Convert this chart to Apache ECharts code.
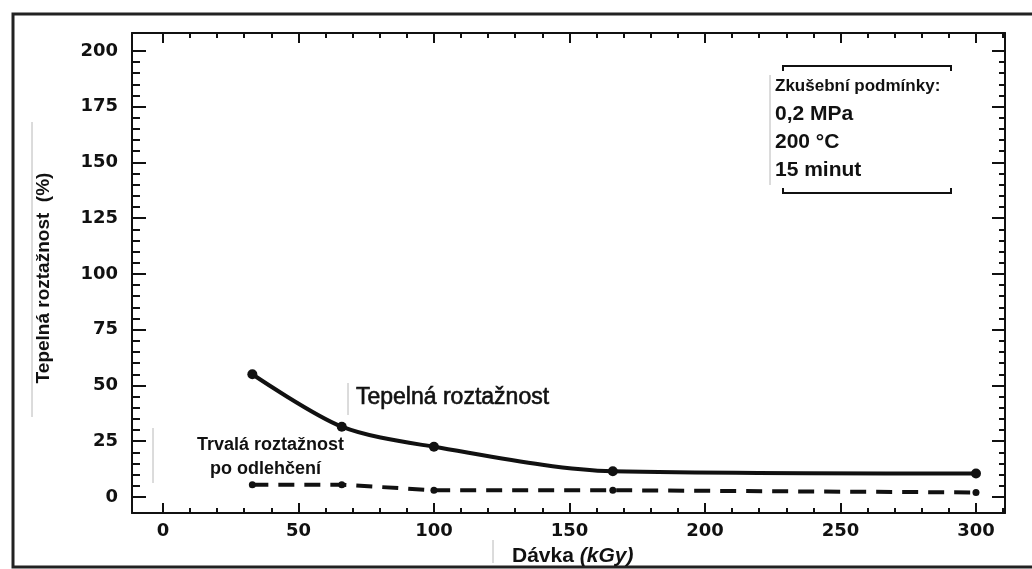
<!DOCTYPE html>
<html>
<head>
<meta charset="utf-8">
<script src="https://cdn.jsdelivr.net/npm/echarts@6/dist/echarts.min.js"></script>
<style>
html,body{margin:0;padding:0;background:#fff;}
#c{width:1032px;height:569px;}
</style>
</head>
<body>
<div id="c"></div>
<script>
// ---- data ----
const dose = [33, 66, 100, 166, 300];
const thermalExpansion = [55, 31.5, 22.5, 11.5, 10.5];
const permanentExpansion = [5.5, 5.5, 3, 3, 2];
const xMajorTicks = [0, 50, 100, 150, 200, 250, 300];
const xMinorTicks = [0, 10, 20, 30, 40, 50, 60, 70, 80, 90, 100, 110, 120, 130, 140, 150, 160, 170, 180, 190, 200, 210, 220, 230, 240, 250, 260, 270, 280, 290, 300, 310];
const yMajorTicks = [0, 25, 50, 75, 100, 125, 150, 175, 200];
const yMinorTicks = [0, 5, 10, 15, 20, 25, 30, 35, 40, 45, 50, 55, 60, 65, 70, 75, 80, 85, 90, 95, 100, 105, 110, 115, 120, 125, 130, 135, 140, 145, 150, 155, 160, 165, 170, 175, 180, 185, 190, 195, 200];
const conditionsTitle = 'Zkušební podmínky:';
const conditions = ['0,2 MPa', '200 °C', '15 minut'];

const X_MIN = -11.4, X_MAX = 310.7, Y_MIN = -7.2, Y_MAX = 208;
const INK = '#111';
const tickFont = {fontFamily: 'DejaVu Sans', fontWeight: 'bold', fontSize: 18, color: INK};

function xAx(pos, values, len, showLine, showLabel) {
  return {
    type: 'value', position: pos, min: X_MIN, max: X_MAX,
    axisLine: {show: showLine, onZero: false, lineStyle: {color: INK, width: 2}},
    axisTick: {show: true, inside: true, length: len, customValues: values, lineStyle: {color: INK, width: 2}},
    axisLabel: showLabel ? Object.assign({show: true, margin: 9, customValues: values}, tickFont) : {show: false},
    splitLine: {show: false}
  };
}
function yAx(pos, values, len, showLine, showLabel) {
  return {
    type: 'value', position: pos, min: Y_MIN, max: Y_MAX,
    axisLine: {show: showLine, onZero: false, lineStyle: {color: INK, width: 2}},
    axisTick: {show: true, inside: true, length: len, customValues: values, lineStyle: {color: INK, width: 2}},
    axisLabel: showLabel ? Object.assign({show: true, margin: 14, customValues: values}, tickFont) : {show: false},
    splitLine: {show: false}
  };
}

const chart = echarts.init(document.getElementById('c'), null, {renderer: 'canvas'});
const grey = {stroke: '#b8b8b8', lineWidth: 1};
const txt = (x, y, text, size, bold, extra) => ({type: 'text', x: x, y: y,
  style: Object.assign({text: text, fontFamily: 'Liberation Sans', fontWeight: bold ? 'bold' : 'normal', fontSize: size, fill: INK, align: 'left', verticalAlign: 'middle'}, extra || {})});
chart.setOption({
  backgroundColor: '#fff',
  animation: false,
  grid: {left: 132, right: 27, top: 33, bottom: 56, containLabel: false},
  xAxis: [
    xAx('bottom', xMajorTicks, 10, true, true),
    xAx('bottom', xMinorTicks, 5, false, false),
    xAx('top', xMajorTicks, 10, true, false),
    xAx('top', xMinorTicks, 5, false, false)
  ],
  yAxis: [
    yAx('left', yMajorTicks, 14, true, true),
    yAx('left', yMinorTicks, 8, false, false),
    yAx('right', yMajorTicks, 13, true, false),
    yAx('right', yMinorTicks, 6, false, false)
  ],
  series: [
    {
      name: 'Tepelná roztažnost', type: 'line', xAxisIndex: 0, yAxisIndex: 0,
      data: dose.map((d, i) => [d, thermalExpansion[i]]),
      smooth: 0.3,
      symbol: 'circle', symbolSize: 10,
      lineStyle: {color: INK, width: 4},
      itemStyle: {color: INK}
    },
    {
      name: 'Trvalá roztažnost po odlehčení', type: 'line', xAxisIndex: 0, yAxisIndex: 0,
      data: dose.map((d, i) => [d, permanentExpansion[i]]),
      symbol: 'circle', symbolSize: 7,
      lineStyle: {color: INK, width: 4, type: [16, 10]},
      itemStyle: {color: INK}
    }
  ],
  graphic: [
    {type: 'rect', shape: {x: 13, y: 14, width: 1030, height: 553}, style: {fill: null, stroke: '#222', lineWidth: 3}, z: 0},
    // faint scan lines
    {type: 'line', shape: {x1: 32, y1: 122, x2: 32, y2: 417}, style: grey},
    {type: 'line', shape: {x1: 153, y1: 428, x2: 153, y2: 483}, style: grey},
    {type: 'line', shape: {x1: 348, y1: 383, x2: 348, y2: 415}, style: grey},
    {type: 'line', shape: {x1: 493, y1: 540, x2: 493, y2: 563}, style: grey},
    {type: 'line', shape: {x1: 770, y1: 75, x2: 770, y2: 185}, style: grey},
    // y axis title
    {type: 'text', x: 44, y: 278, rotation: Math.PI / 2,
      style: {text: 'Tepelná roztažnost  (%)', fontFamily: 'Liberation Sans', fontWeight: 'bold', fontSize: 19, fill: INK, align: 'center', verticalAlign: 'middle'}},
    // x axis title
    {type: 'text', x: 512, y: 556,
      style: {text: '{b|Dávka }{i|(kGy)}', align: 'left', verticalAlign: 'middle',
        rich: {b: {fontFamily: 'Liberation Sans', fontWeight: 'bold', fontSize: 21, fill: INK},
               i: {fontFamily: 'Liberation Sans', fontWeight: 'bold', fontStyle: 'italic', fontSize: 21, fill: INK}}}},
    // series annotations
    txt(356, 398, 'Tepelná roztažnost', 23, false, {stroke: INK, lineWidth: 0.6}),
    txt(197, 445, 'Trvalá roztažnost', 18, true),
    txt(210, 469, 'po odlehčení', 18, true),
    // conditions box brackets
    {type: 'polyline', shape: {points: [[783, 71], [783, 66], [951, 66], [951, 71]]}, style: {stroke: INK, lineWidth: 2, fill: null}},
    {type: 'polyline', shape: {points: [[783, 188], [783, 193], [951, 193], [951, 188]]}, style: {stroke: INK, lineWidth: 2, fill: null}},
    txt(775, 86, conditionsTitle, 17, true),
    txt(775, 114, conditions[0], 21, true),
    txt(775, 142, conditions[1], 21, true),
    txt(775, 170, conditions[2], 21, true)
  ]
});
</script>
</body>
</html>
